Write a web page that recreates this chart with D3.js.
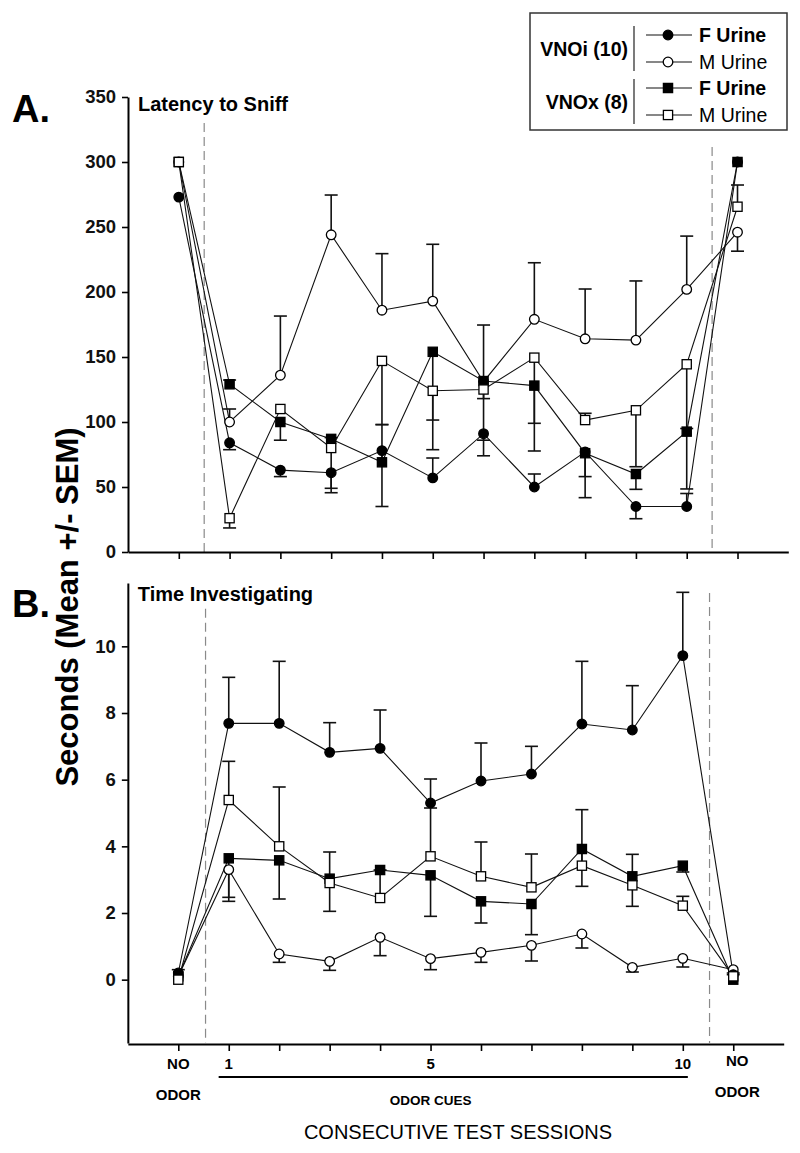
<!DOCTYPE html>
<html><head><meta charset="utf-8">
<script src="https://cdn.jsdelivr.net/npm/d3@7"></script>
<style>body{margin:0;background:#fff}svg{display:block;font-family:"Liberation Sans",Arial,sans-serif}</style>
</head><body><div id="chart"></div>
<script>
// ---------- DATA ----------
const sessions = [0,1,2,3,4,5,6,7,8,9,10,11];
const sessionLabels = ["NO|ODOR","1","","","","5","","","","","10","NO|ODOR"];
const latencyTicks = [0,50,100,150,200,250,300,350];
const timeTicks = [0,2,4,6,8,10];

// Panel A: Latency to Sniff (values, and error-bar end values)
const latVNOiF = [273, 84, 63, 61, 78, 57, 91, 50, 77, 35, 35, 300];
const latVNOiF_err = [null, 78.7, 58, 49, 35, 72.3, 74, 60, 58, 25.6, 45, null];
const latVNOiM = [300, 100, 136, 244, 186, 193, 131, 179, 164, 163, 202, 246];
const latVNOiM_err = [null, 110, 181.5, 274.6, 229.5, 236.7, 174.6, 222.5, 202.3, 208.5, 243, 231.4];
const latVNOxF = [300, 129, 100, 87, 69, 154, 131.5, 128, 76, 60, 92.6, 300];
const latVNOxF_err = [null, 132.3, 86, 88, 98, 78.7, 86, 77.7, 41.8, 48.2, 95, null];
const latVNOxM = [300, 26, 110, 80, 147, 124, 125, 149.5, 101.5, 109, 144.4, 265.6];
const latVNOxM_err = [null, 18.5, null, 45.6, 98, 101.5, 118, 99, 106.7, 65.6, 48.5, 282.3];

// Panel B: Time Investigating
const timVNOiF = [0.2, 7.69, 7.69, 6.82, 6.94, 5.3, 5.96, 6.17, 7.67, 7.49, 9.72, 0.15];
const timVNOiF_err = [0.3, 9.07, 9.55, 7.71, 8.09, 6.02, 7.1, 7.0, 9.55, 8.82, 11.62, null];
const timVNOiM = [0.1, 3.3, 0.77, 0.55, 1.27, 0.63, 0.82, 1.03, 1.37, 0.37, 0.64, 0.3];
const timVNOiM_err = [null, 2.35, 0.52, 0.28, 0.72, 0.3, 0.52, 0.56, 0.95, 0.23, 0.38, 0.15];
const timVNOxF = [0.1, 3.64, 3.58, 3.03, 3.29, 3.13, 2.35, 2.27, 3.92, 3.1, 3.42, 0.0];
const timVNOxF_err = [null, 2.47, 2.42, 2.05, null, 1.9, 1.7, 1.35, 2.8, 2.2, 3.23, 0.2];
const timVNOxM = [0.0, 5.39, 4.0, 2.9, 2.45, 3.7, 3.1, 2.77, 3.42, 2.83, 2.22, 0.1];
const timVNOxM_err = [null, 6.55, 5.78, 3.83, 3.29, 5.15, 4.13, 3.77, 5.1, 3.76, 2.5, null];

const legendGroups = ["VNOi (10)", "VNOx (8)"];
const legendItems = ["F Urine", "M Urine", "F Urine", "M Urine"];

// ---------- DRAW ----------
const W = 800, H = 1153;
const svg = d3.select("#chart").append("svg").attr("width", W).attr("height", H);

const seriesDefs = [
  {key:"VNOiM", shape:"circle", fill:"#fff"},
  {key:"VNOiF", shape:"circle", fill:"#000"},
  {key:"VNOxF", shape:"square", fill:"#000"},
  {key:"VNOxM", shape:"square", fill:"#fff"}
];

function drawPanel(cfg) {
  const g = svg.append("g");
  const x = d3.scaleLinear().domain([-1, 12]).range(cfg.xRange);
  const y = d3.scaleLinear().domain(cfg.yDomain).range(cfg.yRange);

  cfg.dashes.forEach(d => {
    g.append("line").attr("x1", x(d.x)).attr("x2", x(d.x))
      .attr("y1", y(d.top)).attr("y2", y(cfg.yDomain[0]))
      .attr("stroke", "#8a8a8a").attr("stroke-width", 1.2).attr("stroke-dasharray", "9,5");
  });

  const yAxis = d3.axisLeft(y).tickValues(cfg.yTicks).tickSize(6).tickPadding(6).tickSizeOuter(0);
  const ya = g.append("g").attr("transform", `translate(${cfg.xRange[0]},0)`).call(yAxis);
  ya.select(".domain").attr("stroke", "#000").attr("stroke-width", 2);
  ya.selectAll(".tick line").attr("stroke", "#000").attr("stroke-width", 1.6);
  ya.selectAll(".tick text").attr("font-size", 18.5).attr("font-weight", "bold")
    .attr("font-family", "Liberation Sans, Arial, sans-serif").attr("fill", "#111");

  const xAxis = d3.axisBottom(x).tickValues(sessions).tickSize(7).tickFormat("").tickSizeOuter(0);
  const xa = g.append("g").attr("transform", `translate(0,${cfg.xAxisY})`).call(xAxis);
  xa.select(".domain").attr("stroke", "#000").attr("stroke-width", 2);
  xa.selectAll(".tick line").attr("stroke", "#000").attr("stroke-width", 1.6);

  g.append("text").attr("x", cfg.xRange[0] + 10).attr("y", cfg.titleY)
    .attr("font-size", 20).attr("font-weight", "bold").text(cfg.title);

  const line = d3.line().x((d, i) => x(sessions[i])).y(d => y(d));
  seriesDefs.forEach(s => {
    g.append("path").datum(cfg.data[s.key]).attr("d", line)
      .attr("fill", "none").attr("stroke", "#111").attr("stroke-width", 1.1);
  });
  seriesDefs.forEach(s => {
    const vals = cfg.data[s.key], errs = cfg.data[s.key + "_err"];
    sessions.forEach((sx, i) => {
      if (errs[i] == null) return;
      const cx = x(sx);
      g.append("line").attr("x1", cx).attr("x2", cx).attr("y1", y(vals[i])).attr("y2", y(errs[i]))
        .attr("stroke", "#111").attr("stroke-width", 1.6);
      g.append("line").attr("x1", cx - 6.5).attr("x2", cx + 6.5).attr("y1", y(errs[i])).attr("y2", y(errs[i]))
        .attr("stroke", "#111").attr("stroke-width", 1.6);
    });
  });
  seriesDefs.forEach(s => {
    const vals = cfg.data[s.key];
    sessions.forEach((sx, i) => drawMarker(g, s, x(sx), y(vals[i])));
  });
  return {x, y};
}

function drawMarker(g, s, cx, cy) {
  if (s.shape === "circle") {
    g.append("circle").attr("cx", cx).attr("cy", cy).attr("r", 4.8)
      .attr("fill", s.fill).attr("stroke", "#000").attr("stroke-width", 1.3);
  } else {
    g.append("rect").attr("x", cx - 4.6).attr("y", cy - 4.6).attr("width", 9.2).attr("height", 9.2)
      .attr("fill", s.fill).attr("stroke", "#000").attr("stroke-width", 1.3);
  }
}

drawPanel({
  xRange: [128, 788.3], yDomain: [0, 350], yRange: [552, 97], yTicks: latencyTicks, xAxisY: 552,
  title: "Latency to Sniff", titleY: 111,
  dashes: [{x: 0.5, top: 330}, {x: 10.5, top: 311.5}],
  data: {VNOiF: latVNOiF, VNOiF_err: latVNOiF_err, VNOiM: latVNOiM, VNOiM_err: latVNOiM_err,
         VNOxF: latVNOxF, VNOxF_err: latVNOxF_err, VNOxM: latVNOxM, VNOxM_err: latVNOxM_err}
});

const pB = drawPanel({
  xRange: [127.85, 783.7], yDomain: [-1.9, 11.9], yRange: [1043, 583], yTicks: timeTicks, xAxisY: 1044,
  title: "Time Investigating", titleY: 601,
  dashes: [{x: 0.54, top: 11.13}, {x: 10.53, top: 11.6}],
  data: {VNOiF: timVNOiF, VNOiF_err: timVNOiF_err, VNOiM: timVNOiM, VNOiM_err: timVNOiM_err,
         VNOxF: timVNOxF, VNOxF_err: timVNOxF_err, VNOxM: timVNOxM, VNOxM_err: timVNOxM_err}
});

sessionLabels.forEach((lab, i) => {
  if (!lab) return;
  const parts = lab.split("|");
  const cx = pB.x(sessions[i]) + (i === 11 ? 4 : 0);
  const base = i === 11 ? 1066 : 1069;
  parts.forEach((p, j) => {
    svg.append("text").attr("x", cx).attr("y", base + j * 31).attr("text-anchor", "middle")
      .attr("font-size", 15).attr("font-weight", "bold").text(p);
  });
});
svg.append("line").attr("x1", pB.x(0.8)).attr("x2", pB.x(10.1)).attr("y1", 1077).attr("y2", 1077)
  .attr("stroke", "#000").attr("stroke-width", 2.2);
svg.append("text").attr("x", pB.x(5)).attr("y", 1105).attr("text-anchor", "middle")
  .attr("font-size", 13.5).attr("font-weight", "bold").text("ODOR CUES");
svg.append("text").attr("x", 458).attr("y", 1139).attr("text-anchor", "middle")
  .attr("font-size", 20).text("CONSECUTIVE TEST SESSIONS");

svg.append("text").attr("transform", "translate(78,607) rotate(-90)").attr("text-anchor", "middle")
  .attr("font-size", 31).attr("font-weight", "bold").text("Seconds (Mean +/- SEM)");

svg.append("text").attr("x", 12).attr("y", 122).attr("font-size", 38).attr("font-weight", "bold").text("A.");
svg.append("text").attr("x", 12).attr("y", 617).attr("font-size", 38).attr("font-weight", "bold").text("B.");

const lg = svg.append("g");
lg.append("rect").attr("x", 530).attr("y", 13).attr("width", 257).attr("height", 117)
  .attr("fill", "#fff").attr("stroke", "#333").attr("stroke-width", 1.5);
const rowY = [35, 62, 88, 115];
legendGroups.forEach((gname, gi) => {
  const yc = (rowY[gi * 2] + rowY[gi * 2 + 1]) / 2;
  lg.append("text").attr("x", 628).attr("y", yc + 7).attr("text-anchor", "end")
    .attr("font-size", 19.5).attr("font-weight", "bold").text(gname);
  lg.append("line").attr("x1", 634).attr("x2", 634).attr("y1", rowY[gi * 2] - 9).attr("y2", rowY[gi * 2 + 1] + 9)
    .attr("stroke", "#333").attr("stroke-width", 1.3);
});
const legendSeries = ["VNOiF", "VNOiM", "VNOxF", "VNOxM"];
legendItems.forEach((lab, i) => {
  const s = seriesDefs.find(d => d.key === legendSeries[i]);
  lg.append("line").attr("x1", 646).attr("x2", 692).attr("y1", rowY[i]).attr("y2", rowY[i])
    .attr("stroke", "#111").attr("stroke-width", 1.1);
  drawMarker(lg, s, 668, rowY[i]);
  lg.append("text").attr("x", 699).attr("y", rowY[i] + 7).attr("font-size", 19.5)
    .attr("font-weight", s.fill === "#000" ? "bold" : "normal").text(lab);
});
</script></body></html>
